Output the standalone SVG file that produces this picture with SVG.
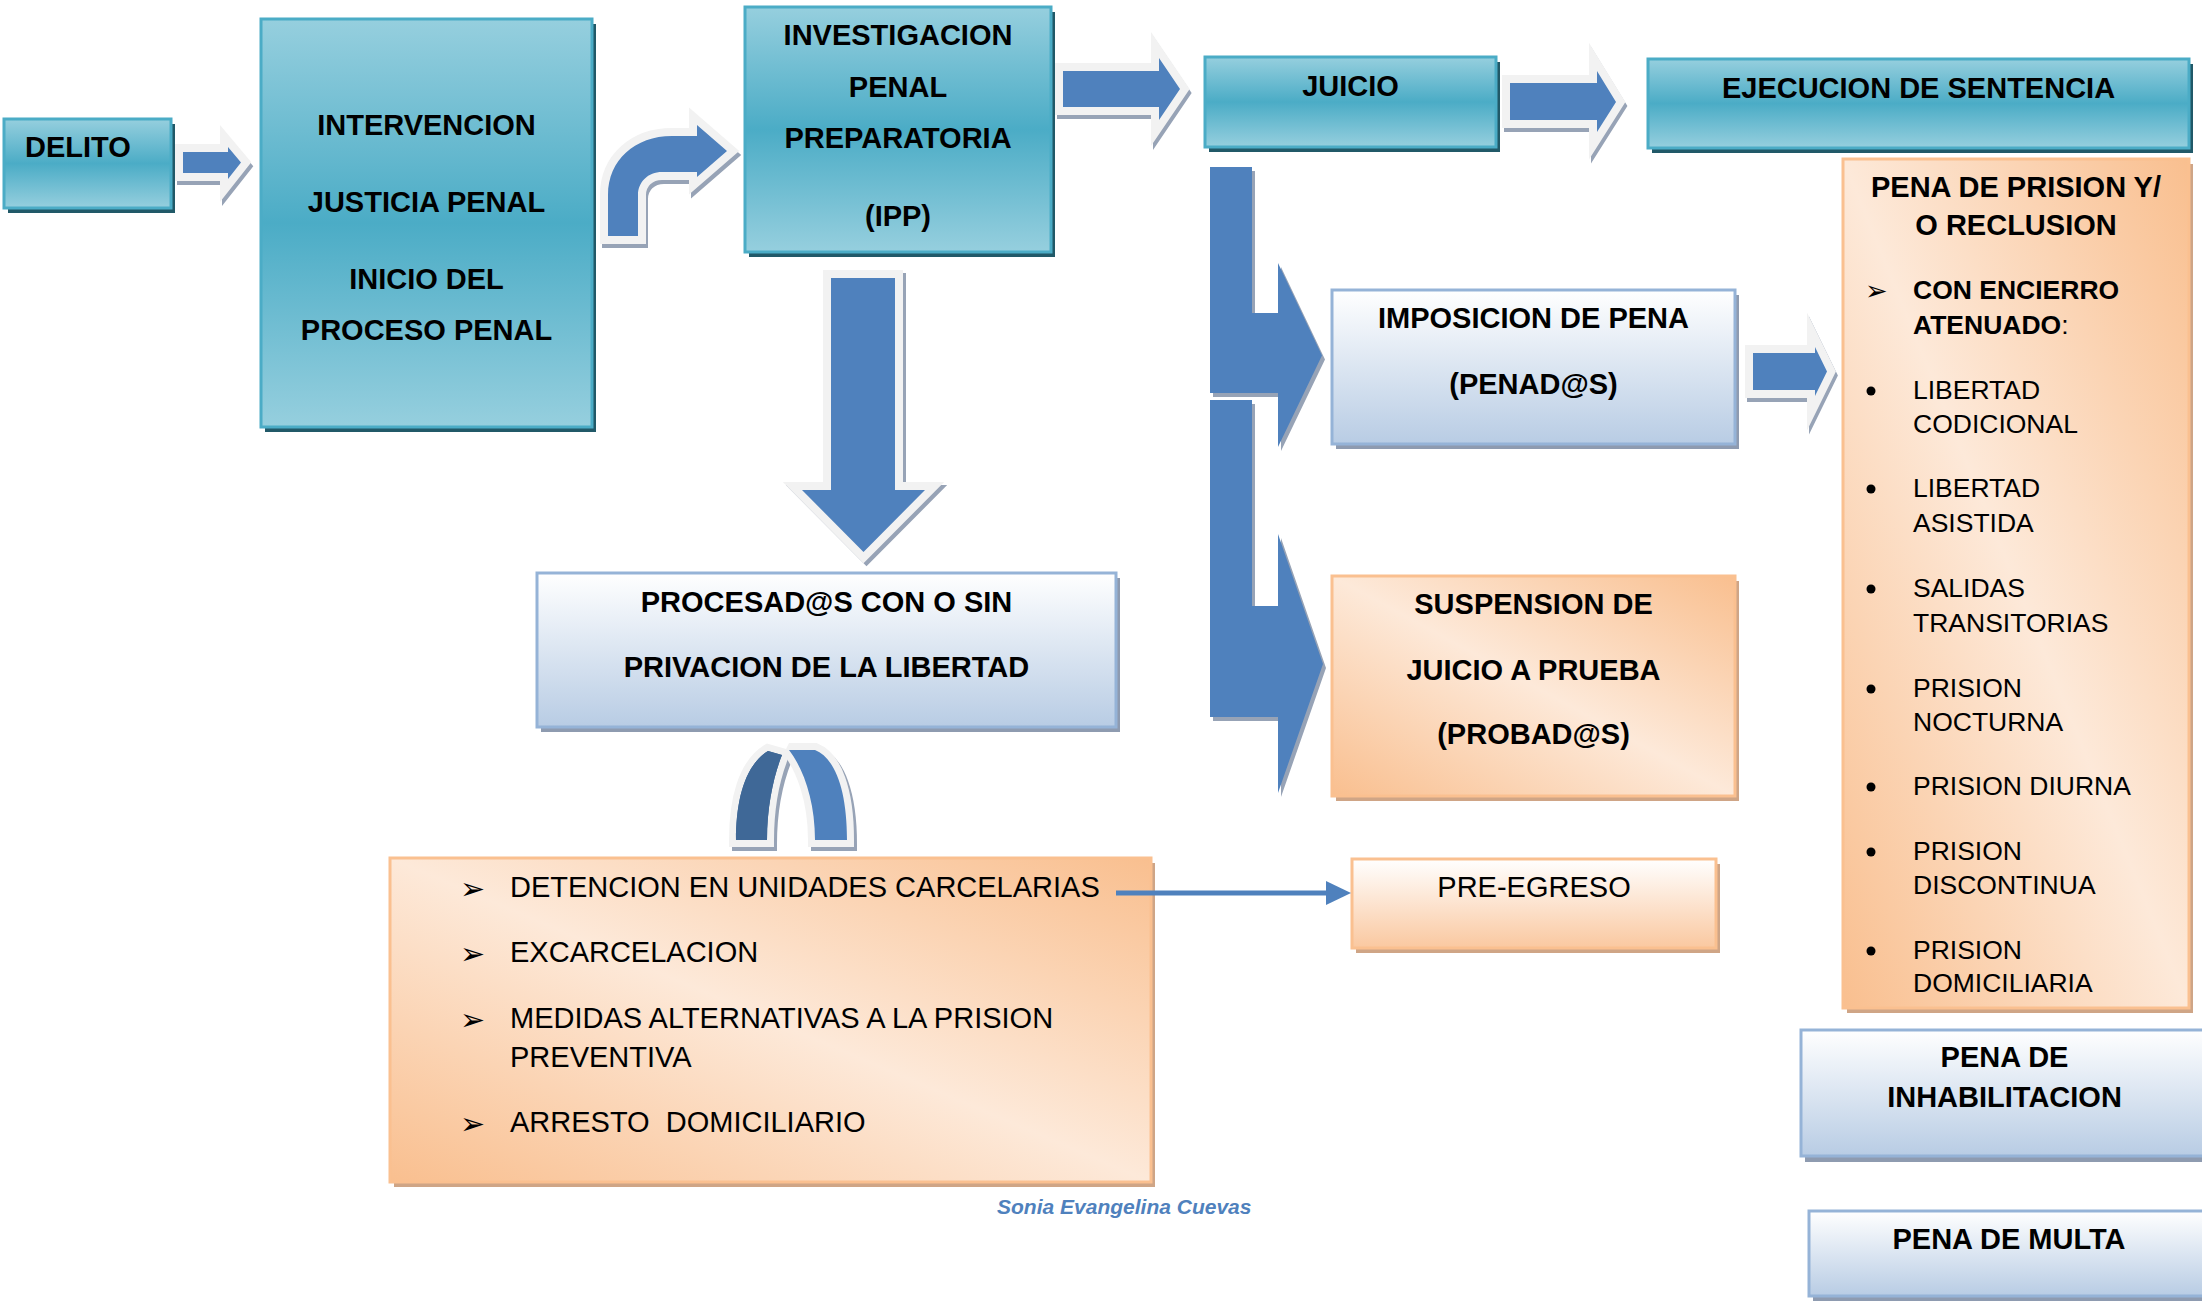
<svg xmlns="http://www.w3.org/2000/svg" width="2202" height="1301" viewBox="0 0 2202 1301">
<defs>
<linearGradient id="gTeal" x1="0" y1="0" x2="0" y2="1">
<stop offset="0" stop-color="#96CFDE"/><stop offset="0.5" stop-color="#4BACC6"/><stop offset="1" stop-color="#96CFDE"/>
</linearGradient>
<linearGradient id="gBlue" x1="0" y1="0" x2="0" y2="1">
<stop offset="0" stop-color="#FFFFFF"/><stop offset="1" stop-color="#B8CCE4"/>
</linearGradient>
<linearGradient id="gOrange" x1="1" y1="0" x2="0" y2="1">
<stop offset="0" stop-color="#F9BF8F"/><stop offset="0.5" stop-color="#FDE9D9"/><stop offset="1" stop-color="#F9BF8F"/>
</linearGradient>
<linearGradient id="gOrangeV" x1="0" y1="0" x2="0" y2="1">
<stop offset="0" stop-color="#FFFFFF"/><stop offset="1" stop-color="#FAC8A0"/>
</linearGradient>
<style>
.teal{fill:url(#gTeal);stroke:#4BACC6;stroke-width:3}
.tsh{fill:#215968}
.blue{fill:url(#gBlue);stroke:#95B3D7;stroke-width:3}
.bsh{fill:#8E9BB0}
.orng{fill:url(#gOrange);stroke:#FAC090;stroke-width:3}
.orngv{fill:url(#gOrangeV);stroke:#FAC090;stroke-width:3}
.osh{fill:#CFA586}
.b{font-family:"Liberation Sans",Arial,sans-serif;font-weight:bold;font-size:29px;fill:#000;text-anchor:middle}
.r{font-family:"Liberation Sans",Arial,sans-serif;font-size:29px;fill:#000}
.l{font-family:"Liberation Sans",Arial,sans-serif;font-size:26.5px;fill:#000}
.lb{font-family:"Liberation Sans",Arial,sans-serif;font-size:26.5px;font-weight:bold;fill:#000}
.dot{fill:#000}
.tri{font-family:"DejaVu Sans",sans-serif;font-size:30px;fill:#000}
.arr{fill:#4F81BD;stroke:#F2F2F2;stroke-width:16;stroke-linejoin:miter;stroke-miterlimit:10;paint-order:stroke}
.arrsh{fill:#97A3B6;stroke:#97A3B6;stroke-width:16;stroke-linejoin:miter;stroke-miterlimit:10}
.blk{fill:#4F81BD}
.blksh{fill:#97A3B6}
</style>
</defs>
<rect width="2202" height="1301" fill="#FFFFFF"/>

<g id="delito">
<rect class="tsh" x="8" y="124" width="167" height="89"/>
<rect class="teal" x="4" y="119" width="167" height="89"/>
<text class="b" x="25" y="157" style="text-anchor:start">DELITO</text>
</g>

<g id="intervencion">
<rect class="tsh" x="265" y="24" width="331" height="408"/>
<rect class="teal" x="261" y="19" width="331" height="408"/>
<text class="b" x="426.5" y="135">INTERVENCION</text>
<text class="b" x="426.5" y="212">JUSTICIA PENAL</text>
<text class="b" x="426.5" y="289">INICIO DEL</text>
<text class="b" x="426.5" y="340">PROCESO PENAL</text>
</g>

<g id="ipp">
<rect class="tsh" x="749" y="12" width="306" height="245"/>
<rect class="teal" x="745" y="7" width="306" height="245"/>
<text class="b" x="898" y="45">INVESTIGACION</text>
<text class="b" x="898" y="97">PENAL</text>
<text class="b" x="898" y="148">PREPARATORIA</text>
<text class="b" x="898" y="226">(IPP)</text>
</g>

<g id="juicio">
<rect class="tsh" x="1209" y="62" width="291" height="90"/>
<rect class="teal" x="1205" y="57" width="291" height="90"/>
<text class="b" x="1350.5" y="96">JUICIO</text>
</g>

<g id="ejecucion">
<rect class="tsh" x="1652" y="64" width="541" height="89"/>
<rect class="teal" x="1648" y="59" width="541" height="89"/>
<text class="b" x="1918.5" y="98">EJECUCION DE SENTENCIA</text>
</g>

<g id="imposicion">
<rect class="bsh" x="1336" y="295" width="403" height="154"/>
<rect class="blue" x="1332" y="290" width="403" height="154"/>
<text class="b" x="1533.5" y="327.5">IMPOSICION DE PENA</text>
<text class="b" x="1533.5" y="394">(PENAD@S)</text>
</g>

<g id="suspension">
<rect class="osh" x="1336" y="581" width="403" height="220"/>
<rect class="orng" x="1332" y="576" width="403" height="220"/>
<text class="b" x="1533.5" y="614">SUSPENSION DE</text>
<text class="b" x="1533.5" y="680">JUICIO A PRUEBA</text>
<text class="b" x="1533.5" y="744">(PROBAD@S)</text>
</g>

<g id="procesados">
<rect class="bsh" x="541" y="578" width="579" height="154"/>
<rect class="blue" x="537" y="573" width="579" height="154"/>
<text class="b" x="826.5" y="612">PROCESAD@S CON O SIN</text>
<text class="b" x="826.5" y="677">PRIVACION DE LA LIBERTAD</text>
</g>

<g id="medidas">
<rect class="osh" x="394" y="863" width="761" height="324"/>
<rect class="orng" x="390" y="858" width="761" height="324"/>
<text class="tri" x="460" y="899">➢</text>
<text class="r" x="510" y="897">DETENCION EN UNIDADES CARCELARIAS</text>
<text class="tri" x="460" y="964">➢</text>
<text class="r" x="510" y="962">EXCARCELACION</text>
<text class="tri" x="460" y="1030">➢</text>
<text class="r" x="510" y="1028">MEDIDAS ALTERNATIVAS A LA PRISION</text>
<text class="r" x="510" y="1067">PREVENTIVA</text>
<text class="tri" x="460" y="1134">➢</text>
<text class="r" x="510" y="1132" xml:space="preserve">ARRESTO  DOMICILIARIO</text>
</g>

<g id="preegreso">
<rect class="osh" x="1356" y="864" width="364" height="89"/>
<rect class="orngv" x="1352" y="859" width="364" height="89"/>
<text class="r" x="1534" y="897" style="text-anchor:middle">PRE-EGRESO</text>
</g>

<g id="prision">
<rect class="osh" x="1847" y="164" width="346" height="849"/>
<rect class="orng" x="1843" y="159" width="346" height="849"/>
<text class="b" x="2016" y="197">PENA DE PRISION Y/</text>
<text class="b" x="2016" y="235">O RECLUSION</text>
<text class="tri" x="1865" y="300" style="font-size:27px">➢</text>
<text class="lb" x="1913" y="299">CON ENCIERRO</text>
<text class="lb" x="1913" y="334">ATENUADO<tspan font-weight="normal">:</tspan></text>
<circle class="dot" cx="1871" cy="391" r="4.5"/>
<text class="l" x="1913" y="399">LIBERTAD</text>
<text class="l" x="1913" y="433">CODICIONAL</text>
<circle class="dot" cx="1871" cy="489" r="4.5"/>
<text class="l" x="1913" y="497">LIBERTAD</text>
<text class="l" x="1913" y="532">ASISTIDA</text>
<circle class="dot" cx="1871" cy="589" r="4.5"/>
<text class="l" x="1913" y="597">SALIDAS</text>
<text class="l" x="1913" y="632">TRANSITORIAS</text>
<circle class="dot" cx="1871" cy="689" r="4.5"/>
<text class="l" x="1913" y="697">PRISION</text>
<text class="l" x="1913" y="731">NOCTURNA</text>
<circle class="dot" cx="1871" cy="787" r="4.5"/>
<text class="l" x="1913" y="795">PRISION DIURNA</text>
<circle class="dot" cx="1871" cy="852" r="4.5"/>
<text class="l" x="1913" y="860">PRISION</text>
<text class="l" x="1913" y="894">DISCONTINUA</text>
<circle class="dot" cx="1871" cy="951" r="4.5"/>
<text class="l" x="1913" y="959">PRISION</text>
<text class="l" x="1913" y="992">DOMICILIARIA</text>
</g>

<g id="inhabilitacion">
<rect class="bsh" x="1805" y="1035" width="410" height="127"/>
<rect class="blue" x="1801" y="1030" width="410" height="126"/>
<text class="b" x="2004.5" y="1067">PENA DE</text>
<text class="b" x="2004.5" y="1106.5">INHABILITACION</text>
</g>

<g id="multa">
<rect class="bsh" x="1813" y="1216" width="405" height="85"/>
<rect class="blue" x="1809" y="1211" width="405" height="85"/>
<text class="b" x="2009" y="1249">PENA DE MULTA</text>
</g>

<g id="autor">
<text x="997" y="1214" style="font-family:'Liberation Sans',Arial,sans-serif;font-size:21px;font-weight:bold;font-style:italic;fill:#4F81BD">Sonia Evangelina Cuevas</text>
</g>

<g id="connectors">
<path class="arrsh" transform="translate(2,4)" d="M183,152 L228,152 L228,147 L241,162.5 L228,179 L228,173 L183,173 Z"/>
<path class="arr" d="M183,152 L228,152 L228,147 L241,162.5 L228,179 L228,173 L183,173 Z"/>
<path class="arrsh" transform="translate(2,4)" d="M608,236 L608,195 C608,160 635,136 672,136 L697,136 L697,125 L727,151 L697,177 L697,172 L662,172 C648,172 638,182 638,195 L638,236 Z"/>
<path class="arr" d="M608,236 L608,195 C608,160 635,136 672,136 L697,136 L697,125 L727,151 L697,177 L697,172 L662,172 C648,172 638,182 638,195 L638,236 Z"/>
<path class="arrsh" transform="translate(2,4)" d="M1063,71 L1159,71 L1159,58 L1180,89 L1159,120 L1159,107 L1063,107 Z"/>
<path class="arr" d="M1063,71 L1159,71 L1159,58 L1180,89 L1159,120 L1159,107 L1063,107 Z"/>
<path class="arrsh" transform="translate(2,4)" d="M1510,83 L1597,83 L1597,71 L1616,102 L1597,132 L1597,120 L1510,120 Z"/>
<path class="arr" d="M1510,83 L1597,83 L1597,71 L1616,102 L1597,132 L1597,120 L1510,120 Z"/>
<path class="arrsh" transform="translate(2,4)" d="M1753,353 L1815,353 L1815,347 L1827,371.5 L1815,396 L1815,390 L1753,390 Z"/>
<path class="arr" d="M1753,353 L1815,353 L1815,347 L1827,371.5 L1815,396 L1815,390 L1753,390 Z"/>
<path class="arrsh" transform="translate(3,3)" d="M831,278 L895,278 L895,490 L925,490 L863.5,552 L802,490 L831,490 Z"/>
<path class="arr" d="M831,278 L895,278 L895,490 L925,490 L863.5,552 L802,490 L831,490 Z"/>
<path class="blksh" transform="translate(3,4)" d="M1210,167 L1252,167 L1252,313 L1278,313 L1278,263 L1322,355.5 L1278,447 L1278,393 L1210,393 Z"/>
<path class="blk" d="M1210,167 L1252,167 L1252,313 L1278,313 L1278,263 L1322,355.5 L1278,447 L1278,393 L1210,393 Z"/>
<path class="blksh" transform="translate(3,4)" d="M1210,400 L1252,400 L1252,606 L1278,606 L1278,534 L1323,664 L1278,793 L1278,717 L1210,717 Z"/>
<path class="blk" d="M1210,400 L1252,400 L1252,606 L1278,606 L1278,534 L1323,664 L1278,793 L1278,717 L1210,717 Z"/>
<g transform="translate(3,4)" style="fill:#97A3B6;stroke:#97A3B6;stroke-width:14;stroke-linejoin:miter;stroke-miterlimit:2">
<path d="M736,840 C736,800 745,765 768,751 L782,755 C774,775 767,805 767,840 Z"/>
<path d="M789,750 L815,750 C835,758 847,790 847,840 L815,840 C815,800 803,768 789,750 Z"/>
</g>
<g style="stroke:#F2F2F2;stroke-width:14;stroke-linejoin:miter;stroke-miterlimit:2;paint-order:stroke">
<path fill="#3F6897" d="M736,840 C736,800 745,765 768,751 L782,755 C774,775 767,805 767,840 Z"/>
<path fill="#4F81BD" d="M789,750 L815,750 C835,758 847,790 847,840 L815,840 C815,800 803,768 789,750 Z"/>
</g>
<path fill="#3F6897" d="M736,840 C736,800 745,765 768,751 L782,755 C774,775 767,805 767,840 Z"/>
<line x1="1116" y1="893" x2="1328" y2="893" stroke="#4F81BD" stroke-width="5"/>
<polygon points="1326,881 1351,893 1326,905" fill="#4F81BD"/>
</g>
</svg>
